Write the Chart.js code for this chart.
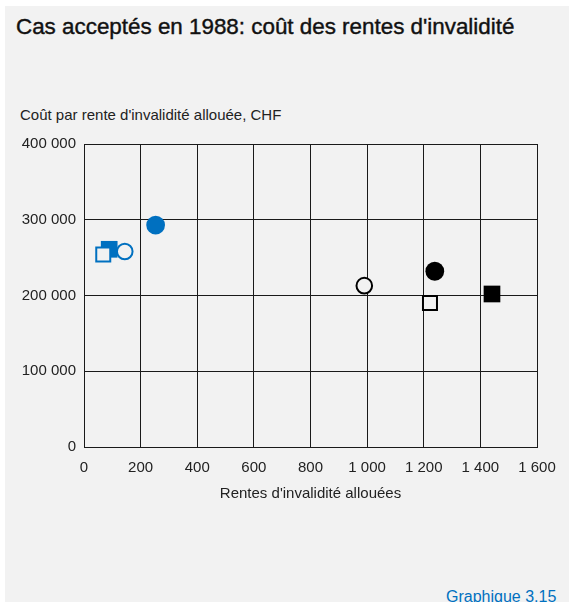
<!DOCTYPE html>
<html>
<head>
<meta charset="utf-8">
<script src="https://cdn.jsdelivr.net/npm/chart.js@4"></script>
<style>
  html, body { margin: 0; padding: 0; background: #ffffff; }
  #wrap { position: relative; width: 569px; height: 602px; overflow: hidden; font-family: "Liberation Sans", Arial, sans-serif; }
  #panel { position: absolute; left: 5px; top: 6px; width: 564px; height: 596px; background: #f2f2f2; }
  #title { position: absolute; left: 16px; top: 14px; font-size: 22.4px; color: #111; white-space: nowrap; -webkit-text-stroke: 0.4px #111; }
  #ytitle { position: absolute; left: 20px; top: 106px; font-size: 15px; color: #222; white-space: nowrap; }
  #source { position: absolute; left: 446px; top: 588px; font-size: 16px; color: #0070c0; white-space: nowrap; }
  canvas { position: absolute; left: 0; top: 0; }
</style>
</head>
<body>
<div id="wrap">
  <div id="panel"></div>
  <div id="title">Cas acceptés en 1988: coût des rentes d'invalidité</div>
  <div id="ytitle">Coût par rente d'invalidité allouée, CHF</div>
  <div id="source">Graphique 3.15</div>
  <canvas id="c" width="569" height="602"></canvas>
</div>
<script>
// Data: [blue, black]
const openSquareX = [68, 1222];
const openSquareY = [254000, 190000];
const filledSquareX = [89, 1441];
const filledSquareY = [261000, 202000];
const openCircleX = [144, 990];
const openCircleY = [258000, 213000];
const filledCircleX = [253, 1239];
const filledCircleY = [293000, 232000];

const xTicks = [0, 200, 400, 600, 800, 1000, 1200, 1400, 1600];
const yTicks = [0, 100000, 200000, 300000, 400000];

const BLUE = '#0070c0';
const BLACK = '#000000';
const BG = '#f2f2f2';
const pointColors = [BLUE, BLACK];

function pts(xs, ys) { return xs.map((x, i) => ({ x: x, y: ys[i] })); }
function fmt(v) { return String(v).replace(/\B(?=(\d{3})+(?!\d))/g, ' '); }

const datasets = [
  { label: 'open square', data: pts(openSquareX, openSquareY), pointStyle: 'rect',
    pointRadius: 9.9, borderWidth: 2, backgroundColor: BG, borderColor: pointColors },
  { label: 'filled square', data: pts(filledSquareX, filledSquareY), pointStyle: 'rect',
    pointRadius: 11.8, borderWidth: 0, backgroundColor: pointColors, borderColor: pointColors },
  { label: 'open circle', data: pts(openCircleX, openCircleY), pointStyle: 'circle',
    pointRadius: 7.8, borderWidth: 2, backgroundColor: BG, borderColor: pointColors },
  { label: 'filled circle', data: pts(filledCircleX, filledCircleY), pointStyle: 'circle',
    pointRadius: 9.4, borderWidth: 0, backgroundColor: pointColors, borderColor: pointColors }
];

new Chart(document.getElementById('c'), {
  type: 'scatter',
  data: { datasets: datasets },
  options: {
    responsive: false,
    animation: false,
    events: [],
    layout: { padding: { left: 0, right: 32, top: 144, bottom: 95 } },
    plugins: { legend: { display: false }, tooltip: { enabled: false }, title: { display: false } },
    scales: {
      x: {
        type: 'linear', min: 0, max: 1600,
        afterBuildTicks: (s) => { s.ticks = xTicks.map(v => ({ value: v })); },
        afterFit: (s) => { s.height = 60; },
        grid: { color: '#1a1a1a', lineWidth: 1, drawTicks: false },
        border: { color: '#1a1a1a', width: 1 },
        ticks: { padding: 12, color: '#222', font: { family: 'Liberation Sans', size: 15 }, maxRotation: 0, autoSkip: false, callback: (v) => fmt(v) },
        title: { display: true, text: "Rentes d'invalidité allouées", color: '#222',
                 font: { family: 'Liberation Sans', size: 15 }, padding: { top: 0, bottom: 4 } }
      },
      y: {
        type: 'linear', min: 0, max: 400000,
        afterBuildTicks: (s) => { s.ticks = yTicks.map(v => ({ value: v })); },
        afterFit: (s) => { s.width = 84; },
        grid: { color: '#1a1a1a', lineWidth: 1, drawTicks: false },
        border: { color: '#1a1a1a', width: 1 },
        ticks: { padding: 8, color: '#222', font: { family: 'Liberation Sans', size: 15 }, autoSkip: false, callback: (v) => fmt(v) }
      }
    }
  }
});
</script>
</body>
</html>
